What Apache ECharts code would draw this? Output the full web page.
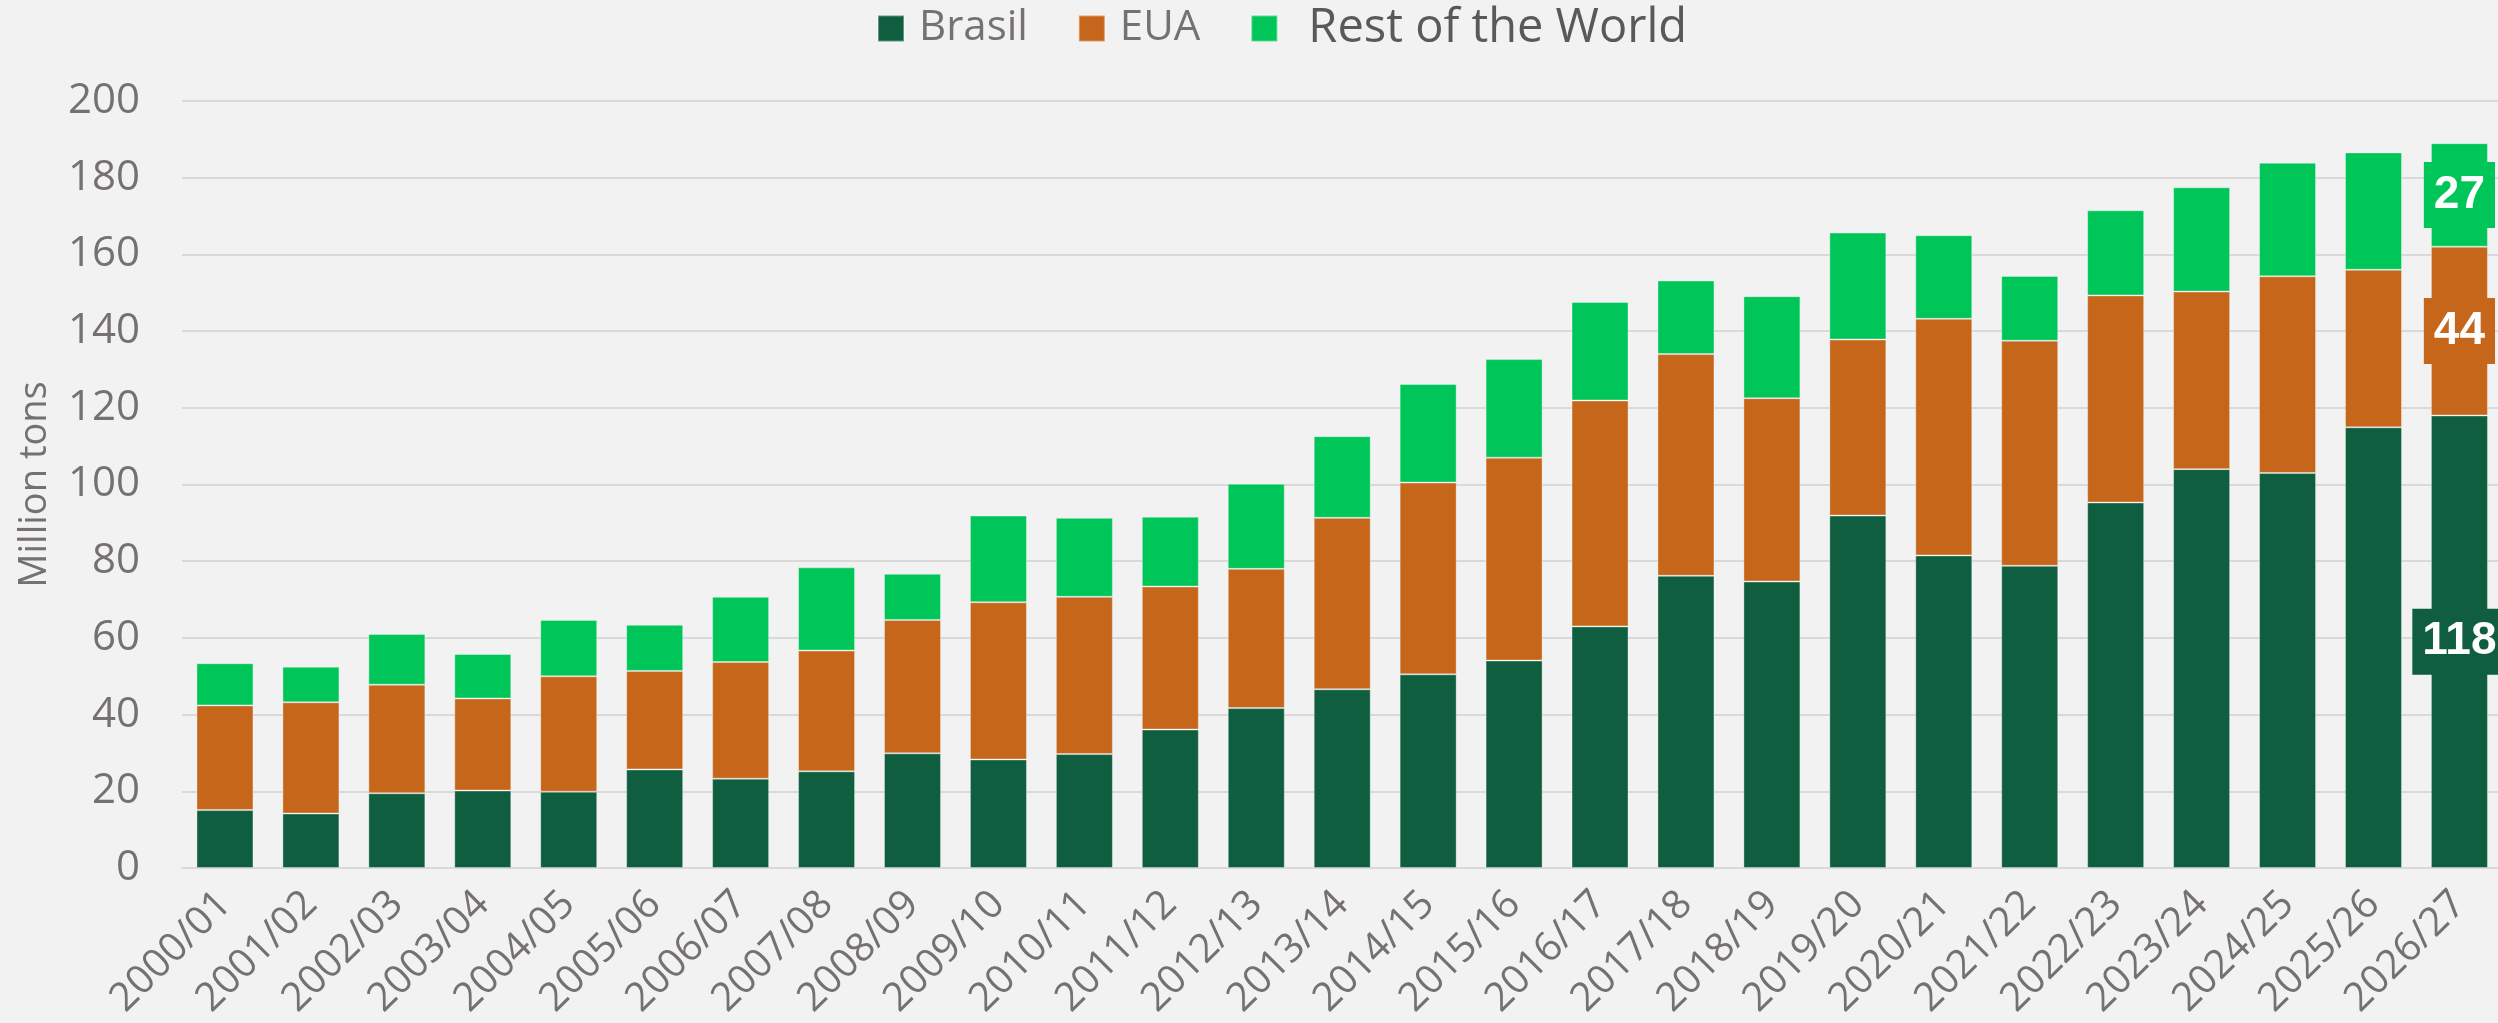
<!DOCTYPE html>
<html>
<head>
<meta charset="utf-8">
<script src="https://cdn.jsdelivr.net/npm/echarts@6/dist/echarts.min.js"></script>
<style>
html,body{margin:0;padding:0;background:#F2F2F2;}
#chart{width:2498px;height:1023px;}
</style>
</head>
<body>
<div id="chart"></div>
<script>
const categories = ["2000/01","2001/02","2002/03","2003/04","2004/05","2005/06","2006/07","2007/08","2008/09","2009/10","2010/11","2011/12","2012/13","2013/14","2014/15","2015/16","2016/17","2017/18","2018/19","2019/20","2020/21","2021/22","2022/23","2023/24","2024/25","2025/26","2026/27"];
const brasil = [15.1,14.2,19.5,20.2,19.9,25.7,23.3,25.2,29.9,28.3,29.7,36.1,41.7,46.6,50.5,54.1,63.0,76.2,74.7,91.9,81.5,78.8,95.3,104.0,103.0,114.9,118];
const eua = [27.3,29.0,28.3,24.0,30.1,25.7,30.4,31.5,34.8,41.0,41.0,37.3,36.3,44.7,50.0,52.9,58.9,57.8,47.8,45.9,61.7,58.7,54.0,46.3,51.3,41.1,44];
const rest = [11.0,9.3,13.2,11.6,14.7,12.0,17.0,21.7,12.0,22.6,20.6,18.2,22.2,21.3,25.7,25.7,25.7,19.2,26.6,27.9,21.8,16.9,22.2,27.2,29.6,30.6,27];
const yTicks = [0,20,40,60,80,100,120,140,160,180,200];

const colors = {Brasil:'#0E5E3F', EUA:'#C5661A', 'Rest of the World':'#00C65A'};
const lastIdx = categories.length - 1;

function withLastLabel(arr, color){
  return arr.map((v,i)=>{
    if(i!==lastIdx) return v;
    return {value:v, label:{show:true, position:'inside', formatter:(p)=>Math.round(p.value).toString(),
      color:'#fff', fontWeight:'bold', fontSize:46, fontFamily:'Liberation Sans, Arial, sans-serif',
      backgroundColor:color, padding:[10,10], lineHeight:46}};
  });
}

const chart = echarts.init(document.getElementById('chart'));
const axisFont = 'Open Sans';
const grey = '#767171';
function mk(name, data){
  return {name, type:'bar', stack:'total', barWidth:57, data:withLastLabel(data, colors[name]),
    itemStyle:{color:colors[name], borderColor:'rgba(255,255,255,0.35)', borderWidth:1},
    emphasis:{disabled:true}};
}
chart.setOption({
  backgroundColor:'#F2F2F2',
  animation:false,
  legend:{
    top:0, left:872, itemWidth:26, itemHeight:26, itemGap:50, icon:'rect',
    data:[
      {name:'Brasil', textStyle:{color:grey}},
      {name:'EUA', textStyle:{color:grey}},
      {name:'Rest of the World', textStyle:{color:'#595959', fontSize:47, padding:[0,0,0,26]}}
    ],
    textStyle:{fontFamily:axisFont, fontSize:42, color:grey, padding:[0,0,0,10]}
  },
  grid:{left:182, top:101, width:2320.4, height:767, containLabel:false, outerBoundsMode:'none'},
  xAxis:{type:'category', data:categories,
    axisLine:{lineStyle:{color:'#D9D9D9', width:2}},
    axisTick:{show:false},
    axisLabel:{rotate:45, margin:30, fontFamily:axisFont, fontSize:40, color:grey, interval:0}
  },
  yAxis:{type:'value', min:yTicks[0], max:yTicks[yTicks.length-1], interval:20,
    name:'Million tons', nameLocation:'middle', nameGap:128,
    nameTextStyle:{fontFamily:axisFont, fontSize:38, color:grey},
    axisLabel:{fontFamily:axisFont, fontSize:42, color:grey, margin:42},
    splitLine:{lineStyle:{color:'#D9D9D9', width:2}},
    axisLine:{show:false}, axisTick:{show:false}
  },
  series:[mk('Brasil', brasil), mk('EUA', eua), mk('Rest of the World', rest)]
});
</script>
</body>
</html>
